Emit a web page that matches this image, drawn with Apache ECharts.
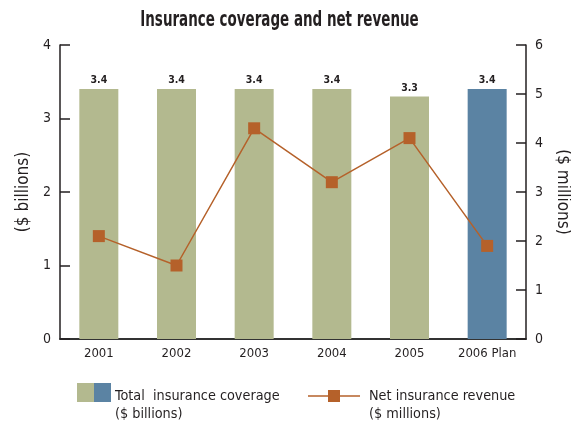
<!DOCTYPE html>
<html>
<head>
<meta charset="utf-8">
<style>
  html, body { margin: 0; padding: 0; background: #fff; }
  #chart { width: 571px; height: 423px; }
</style>
<script src="https://cdn.jsdelivr.net/npm/echarts@6/dist/echarts.min.js"></script>
</head>
<body>
<div id="chart"></div>
<script>
// Years shown along the bottom axis
const categories = ['2001', '2002', '2003', '2004', '2005', '2006 Plan'];
// Total insurance coverage, $ billions (left axis)
const coverage = [3.4, 3.4, 3.4, 3.4, 3.3, 3.4];
// Net insurance revenue, $ millions (right axis)
const revenue = [2.1, 1.5, 4.3, 3.2, 4.1, 1.9];
// Tick labels for both value axes
const leftTicks = ['0', '1', '2', '3', '4'];
const rightTicks = ['0', '1', '2', '3', '4', '5', '6'];

const GREEN = '#b3b98f';
const BLUE = '#5b83a3';
const RUST = '#b5612a';
const INK = '#231f20';
const FONT = '"DejaVu Sans Condensed", "Liberation Sans", sans-serif';

const chart = echarts.init(document.getElementById('chart'), null, { renderer: 'canvas' });

const barData = coverage.map((v, i) => ({
  value: v,
  itemStyle: { color: categories[i].indexOf('Plan') >= 0 ? BLUE : GREEN }
}));

const valueAxis = (ticks, max, name, rotate, gap) => ({
  type: 'value',
  min: 0, max: max, interval: 1,
  name: name,
  nameLocation: 'middle',
  nameGap: gap,
  nameRotate: rotate,
  nameTextStyle: { fontFamily: FONT, fontSize: 17, color: INK },
  axisLine: { show: true, lineStyle: { color: INK, width: 1.5 } },
  axisTick: { show: true, inside: true, length: 10, lineStyle: { color: INK, width: 1.5 } },
  axisLabel: {
    fontFamily: FONT, fontSize: 14, color: INK, margin: 9,
    formatter: (v) => ticks[v] !== undefined ? ticks[v] : ''
  },
  splitLine: { show: false }
});

chart.setOption({
  animation: false,
  backgroundColor: '#fff',
  grid: { left: 60, right: 45, top: 45, bottom: 84, containLabel: false, outerBoundsMode: 'none' },
  xAxis: {
    type: 'category',
    data: categories,
    axisLine: { lineStyle: { color: '#333', width: 2 } },
    axisTick: { inside: true, length: 5, lineStyle: { color: '#333', width: 1.5 } },
    axisLabel: { interval: 0, fontFamily: FONT, fontSize: 13, color: INK, margin: 8 }
  },
  yAxis: [
    valueAxis(leftTicks, 4, '($ billions)', 90, 25),
    valueAxis(rightTicks, 6, '($ millions)', -90, 27)
  ],
  series: [
    {
      name: 'Total insurance coverage',
      type: 'bar',
      yAxisIndex: 0,
      data: barData,
      barWidth: 39,
      label: {
        show: true,
        position: 'top',
        distance: 3,
        fontFamily: FONT,
        fontSize: 10.5,
        fontWeight: 'bold',
        color: INK,
        formatter: (p) => p.value.toFixed(1)
      }
    },
    {
      name: 'Net insurance revenue',
      type: 'line',
      yAxisIndex: 1,
      data: revenue,
      symbol: 'rect',
      symbolSize: 12,
      itemStyle: { color: RUST },
      lineStyle: { color: RUST, width: 1.5 },
      z: 5
    }
  ],
  graphic: [
    // Chart heading, set in a tight condensed bold face
    {
      type: 'text', x: 279.5, y: 10, scaleX: 0.73, originX: 0,
      style: {
        text: 'Insurance coverage and net revenue',
        fontFamily: FONT, fontSize: 20.5, fontWeight: 'bold', fill: INK,
        align: 'center', verticalAlign: 'top'
      }
    },
    // Two-tone swatch for the coverage bars
    { type: 'rect', left: 77, top: 383, shape: { width: 17, height: 19 }, style: { fill: GREEN } },
    { type: 'rect', left: 94, top: 383, shape: { width: 17, height: 19 }, style: { fill: BLUE } },
    {
      type: 'text', left: 115, top: 387,
      style: {
        text: 'Total  insurance coverage\n($ billions)',
        fontFamily: FONT, fontSize: 14.3, lineHeight: 18, fill: INK
      }
    },
    // Line-and-marker swatch for revenue
    { type: 'line', shape: { x1: 308, y1: 396, x2: 360, y2: 396 }, style: { stroke: RUST, lineWidth: 1.5 } },
    { type: 'rect', left: 328, top: 390, shape: { width: 12, height: 12 }, style: { fill: RUST } },
    {
      type: 'text', left: 369, top: 387,
      style: {
        text: 'Net insurance revenue\n($ millions)',
        fontFamily: FONT, fontSize: 14.3, lineHeight: 18, fill: INK
      }
    }
  ]
});
</script>
</body>
</html>
